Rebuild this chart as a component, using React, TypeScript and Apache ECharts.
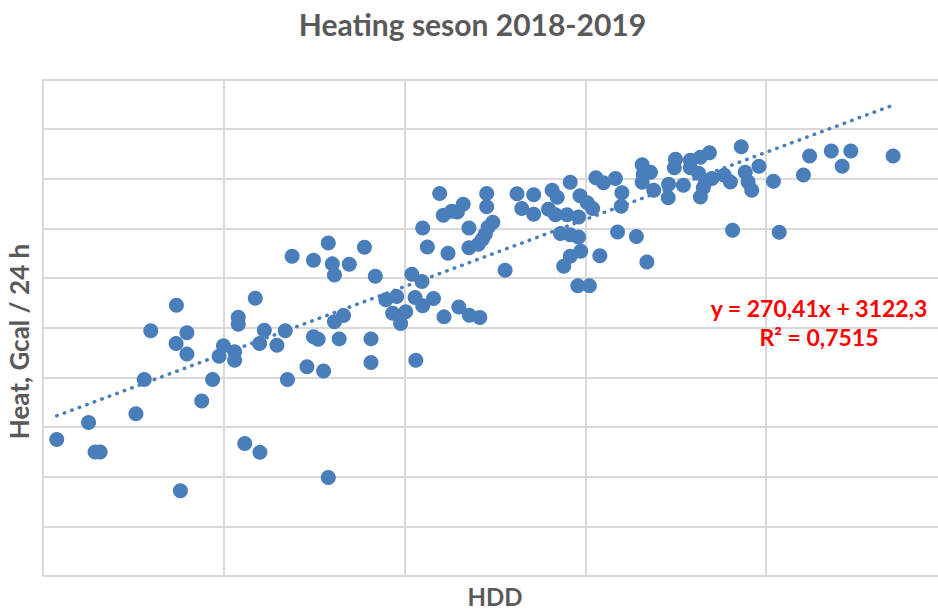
import { useEffect, useRef } from "react";
import * as echarts from "echarts";

// HDD per day (x) and heat per 24 h (y)
const HDD = [
  0.38, 1.26, 1.44, 1.58, 2.57, 2.8, 2.98, 3.69, 3.98, 3.68,
  3.98, 4.39, 4.69, 3.8, 4.87, 4.99, 5.3, 5.3, 5.4, 5.4,
  5.58, 6.0, 5.87, 5.99, 6.12, 6.47, 6.7, 6.76, 7.3, 7.48,
  7.61, 7.76, 7.89, 6.89, 7.48, 7.89, 8.0, 8.06, 8.47, 8.89,
  9.19, 8.06, 8.31, 8.19, 9.07, 9.07, 9.48, 9.78, 9.67, 9.89,
  10.03, 10.2, 10.48, 10.29, 10.5, 10.8, 11.09, 11.5, 11.79, 12.08,
  10.31, 10.97, 11.07, 11.3, 11.46, 11.62, 12.27, 12.27, 10.5, 10.63,
  11.2, 11.78, 11.78, 12.04, 12.15, 12.23, 12.31, 12.44, 12.78, 13.11,
  13.24, 13.57, 13.57, 14.08, 13.98, 14.22, 14.17, 14.58, 14.49, 14.81,
  14.85, 15.05, 15.2, 15.29, 15.5, 14.31, 14.58, 14.81, 14.87, 14.58,
  14.4, 15.4, 14.79, 15.11, 15.83, 16.01, 15.99, 15.89, 16.41, 16.7,
  16.57, 16.8, 16.6, 16.57, 16.89, 17.29, 17.3, 17.49, 17.46, 17.71,
  17.9, 17.9, 18.18, 18.43, 18.18, 18.13, 18.32, 18.5, 18.26, 18.84,
  19.01, 19.31, 19.42, 19.5, 19.6, 19.8, 20.2, 19.07, 20.36, 21.03,
  21.2, 21.8, 22.1, 22.34, 23.51,
];
const HEAT = [
  2746, 3092, 2495, 2495, 3265, 3954, 4939, 5453, 4899, 4682,
  4467, 3521, 3954, 1716, 4426, 4638, 4517, 4346, 5211, 5070,
  2666, 2489, 5593, 4682, 4950, 4644, 4939, 3958, 4211, 4819,
  4768, 4125, 1982, 6438, 6358, 6706, 6284, 6060, 6277, 6619,
  6036, 5117, 5245, 4774, 4774, 4300, 5563, 5628, 5292, 5084,
  5322, 6076, 5929, 5609, 5442, 5587, 5217, 5418, 5251, 5205,
  4346, 7700, 7263, 7344, 7330, 7485, 7700, 7434, 7008, 6626,
  6499, 7008, 6609, 6680, 6780, 6881, 7022, 7122, 6157, 7696,
  7398, 7676, 7283, 7766, 7384, 7625, 7273, 7927, 7273, 7229,
  7656, 7515, 7398, 8018, 7917, 6895, 6871, 6827, 6539, 6438,
  6237, 6449, 5845, 5845, 8002, 7716, 7444, 6927, 6835, 6324,
  8279, 8128, 8088, 7927, 7766, 7615, 7887, 8390, 8219, 7867,
  8370, 8219, 8430, 8521, 7632, 8108, 7933, 8002, 7817, 8068,
  7933, 8641, 8128, 7933, 7766, 8249, 7947, 6962, 6921, 8072,
  8456, 8557, 8249, 8557, 8456,
];

// Linear trendline shown in the chart
const TREND_SLOPE = 270.41;
const TREND_INTERCEPT = 3122.3;
const EQUATION_LINES = ["y = 270,41x + 3122,3", "R² = 0,7515"];

const TITLE = "Heating seson 2018-2019";
const X_NAME = "HDD";
const Y_NAME = "Heat, Gcal / 24 h";

const X_MIN = 0;
const X_MAX = 25;
const X_STEP = 5;
const Y_MIN = 0;
const Y_MAX = 10000;
const Y_STEP = 1000;

export default function App() {
  const ref = useRef<HTMLDivElement>(null);

  useEffect(() => {
    if (!ref.current) return;
    const chart = echarts.init(ref.current, null, { renderer: "svg" });
    const xLo = Math.min(...HDD);
    const xHi = Math.max(...HDD);
    const points = HDD.map((x, i) => [x, HEAT[i]]);
    const trend = [
      [xLo, TREND_SLOPE * xLo + TREND_INTERCEPT],
      [xHi, TREND_SLOPE * xHi + TREND_INTERCEPT],
    ];
    const gray = "#595959";
    const split = { show: true, lineStyle: { color: "#d9d9d9", width: 2 } };
    chart.setOption({
      animation: false,
      backgroundColor: "#ffffff",
      grid: { left: 43, top: 79.3, right: 0, bottom: 34 },
      xAxis: {
        type: "value",
        min: X_MIN,
        max: X_MAX,
        interval: X_STEP,
        axisLine: { show: false },
        axisTick: { show: false },
        axisLabel: { show: false },
        splitLine: split,
      },
      yAxis: {
        type: "value",
        min: Y_MIN,
        max: Y_MAX,
        interval: Y_STEP,
        axisLine: { show: false },
        axisTick: { show: false },
        axisLabel: { show: false },
        splitLine: split,
      },
      series: [
        {
          type: "scatter",
          data: points,
          symbol: "circle",
          symbolSize: 15,
          itemStyle: { color: "#4a7ebb", opacity: 1 },
          z: 2,
        },
        {
          type: "line",
          data: trend,
          showSymbol: false,
          symbol: "none",
          lineStyle: { color: "#4a7ebb", width: 3.5, type: [0.5, 7.5], cap: "round" },
          z: 3,
        },
      ],
      graphic: [
        {
          type: "text",
          x: 472.5,
          y: 24,
          z: 100,
          style: { text: TITLE, fill: gray, font: "bold 30px Lato", align: "center", verticalAlign: "middle" },
        },
        {
          type: "text",
          x: 19,
          y: 341.5,
          z: 100,
          rotation: Math.PI / 2,
          style: { text: Y_NAME, fill: gray, font: "bold 26px Lato", align: "center", verticalAlign: "middle" },
        },
        {
          type: "text",
          x: 495,
          y: 596,
          z: 100,
          style: { text: X_NAME, fill: gray, font: "bold 24px Lato", align: "center", verticalAlign: "middle" },
        },
        {
          type: "text",
          x: 819,
          y: 308,
          z: 100,
          style: { text: EQUATION_LINES[0], fill: "#ff0000", font: "bold 23px Lato", align: "center", verticalAlign: "middle" },
        },
        {
          type: "text",
          x: 819,
          y: 337,
          z: 100,
          style: { text: EQUATION_LINES[1], fill: "#ff0000", font: "bold 23px Lato", align: "center", verticalAlign: "middle" },
        },
      ],
    });
    return () => chart.dispose();
  }, []);

  return (
    <div style={{ position: "absolute", left: 0, top: 0, width: 938, height: 610, overflow: "hidden" }}>
      <div ref={ref} style={{ width: 946.5, height: 610 }} />
    </div>
  );
}
